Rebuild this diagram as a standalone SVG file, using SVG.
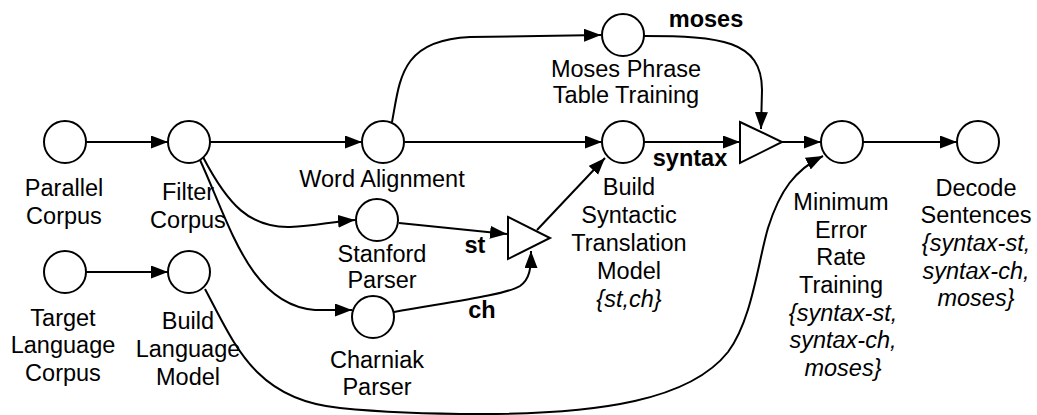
<svg xmlns="http://www.w3.org/2000/svg" width="1037" height="415" viewBox="0 0 1037 415">
<defs>
<marker id="arr" markerUnits="userSpaceOnUse" markerWidth="18" markerHeight="14" refX="17" refY="6.5" orient="auto">
<path d="M0,0 L17,6.5 L0,13 z" fill="#000"/>
</marker>
<style>
.n{fill:#fff;stroke:#000;stroke-width:2}
.e{fill:none;stroke:#000;stroke-width:2;marker-end:url(#arr)}
.p{fill:none;stroke:#000;stroke-width:2}
text{font-family:"Liberation Sans",Arial,Helvetica,sans-serif;font-size:23.5px;fill:#000;text-anchor:middle}
.b{font-weight:bold}
.i{font-style:italic}
</style>
</defs>
<rect width="1037" height="415" fill="#fff"/>
<g id="connectors">
<path class="e" d="M86,142 L168,142"/>
<path class="e" d="M86,272 L168,272"/>
<path class="e" d="M210,142 L362,142"/>
<path class="e" d="M405,142 L602,142"/>
<path class="e" d="M392,122 C400,80 400,40 470,37 L601,35"/>
<path class="e" d="M644,36 C720,36 762,40 762,90 L761,129"/>
<path class="e" d="M644,142 L740,142"/>
<path class="e" d="M782,142 L821,142"/>
<path class="e" d="M863,142 L957,142"/>
<path class="e" d="M203,157 C228,205 250,228 290,227 C315,226 330,222 355,220"/>
<path class="e" d="M200,160 C230,225 250,305 315,310 L352,310"/>
<path class="e" d="M399,223 L507,234"/>
<path class="e" d="M394,312 C450,302 505,295 520,286 C530,279 531,268 531,251"/>
<path class="e" d="M537,230 L605,158"/>
<path class="e" d="M205,289 C235,345 255,400 340,408 C380,412 420,414 480,414 C600,414 690,400 728,352 C752,320 758,262 768,228 C780,190 795,170 823,156"/>
</g>
<g id="parallel-corpus"><circle class="n" cx="65" cy="142" r="21"/><text x="64" y="196">Parallel</text><text x="64" y="224">Corpus</text></g>
<g id="filter-corpus"><circle class="n" cx="189" cy="142" r="21"/><text x="188" y="200">Filter</text><text x="188" y="228">Corpus</text></g>
<g id="target-language-corpus"><circle class="n" cx="65" cy="272" r="21"/><text x="63" y="326">Target</text><text x="63" y="353">Language</text><text x="63" y="381">Corpus</text></g>
<g id="build-language-model"><circle class="n" cx="189" cy="272" r="21"/><text x="188" y="329">Build</text><text x="188" y="357">Language</text><text x="188" y="385">Model</text></g>
<g id="word-alignment"><circle class="n" cx="383" cy="142" r="21"/><text x="382" y="187">Word Alignment</text></g>
<g id="moses-phrase"><circle class="n" cx="623" cy="35" r="21"/><text x="626" y="77">Moses Phrase</text><text x="626" y="103">Table Training</text></g>
<g id="build-syntactic"><circle class="n" cx="623" cy="142" r="21"/><text x="629" y="195">Build</text><text x="629" y="223">Syntactic</text><text x="629" y="251">Translation</text><text x="629" y="279">Model</text><text class="i" x="629" y="307">{st,ch}</text></g>
<g id="stanford-parser"><circle class="n" cx="377" cy="220" r="21"/><text x="382" y="262">Stanford</text><text x="382" y="288">Parser</text></g>
<g id="charniak-parser"><circle class="n" cx="373" cy="317" r="21"/><text x="377" y="368">Charniak</text><text x="377" y="395">Parser</text></g>
<g id="combine-parsers"><path class="n" d="M508,217 L550,238 L508,259 z"/></g>
<g id="combine-models"><path class="n" d="M740,122 L782,142 L740,163 z"/></g>
<g id="mert"><circle class="n" cx="842" cy="142" r="21"/><text x="841" y="210">Minimum</text><text x="841" y="238">Error</text><text x="841" y="265">Rate</text><text x="841" y="293">Training</text><text class="i" x="843" y="321">{syntax-st,</text><text class="i" x="843" y="348">syntax-ch,</text><text class="i" x="843" y="376">moses}</text></g>
<g id="decode"><circle class="n" cx="978" cy="142" r="21"/><text x="976" y="196">Decode</text><text x="976" y="223">Sentences</text><text class="i" x="976" y="251">{syntax-st,</text><text class="i" x="976" y="279">syntax-ch,</text><text class="i" x="976" y="306">moses}</text></g>
<g id="edge-labels"><text class="b" x="706" y="27">moses</text><text class="b" x="690" y="166">syntax</text><text class="b" x="475" y="253">st</text><text class="b" x="482" y="318">ch</text></g>
</svg>
